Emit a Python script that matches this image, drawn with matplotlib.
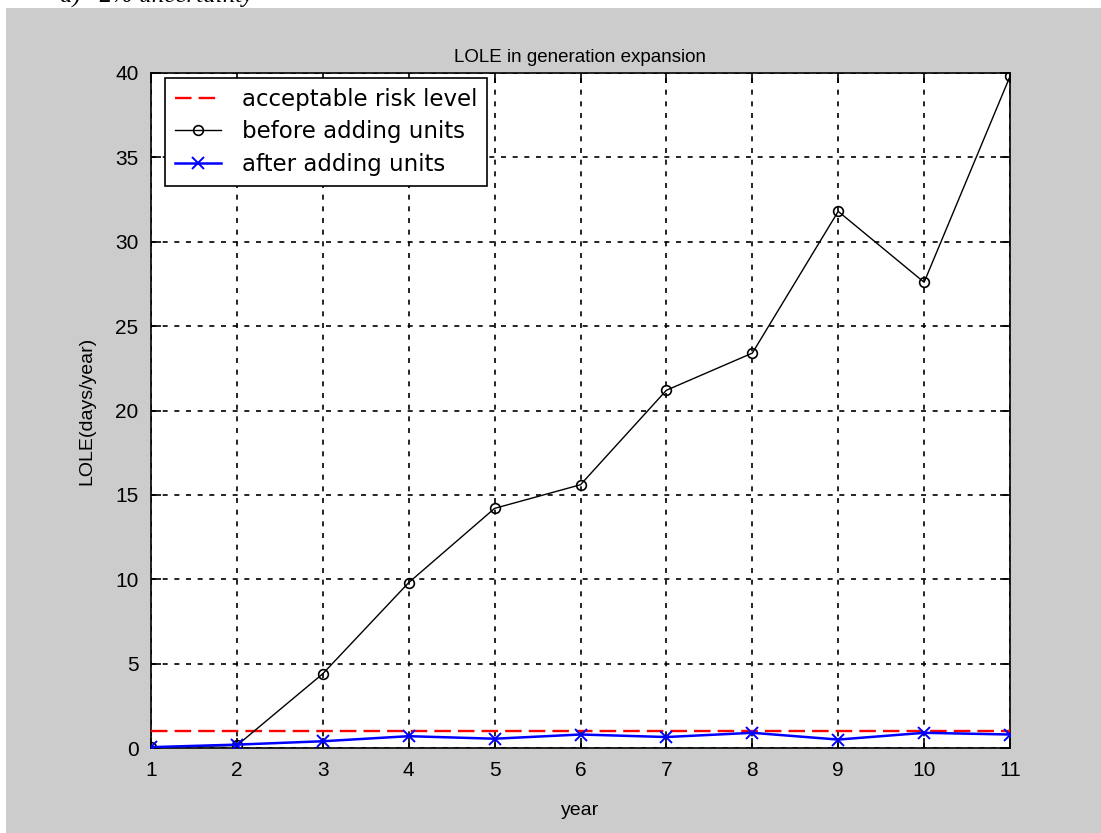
import matplotlib
matplotlib.use("Agg")
import matplotlib.pyplot as plt
from matplotlib.patches import Rectangle

years = [1, 2, 3, 4, 5, 6, 7, 8, 9, 10, 11]
risk_level = [1, 1, 1, 1, 1, 1, 1, 1, 1, 1, 1]
before_units = [0.05, 0.15, 4.4, 9.8, 14.2, 15.6, 21.2, 23.4, 31.8, 27.6, 39.8]
after_units = [0.05, 0.2, 0.4, 0.7, 0.55, 0.8, 0.65, 0.9, 0.5, 0.9, 0.8]
x_ticks = [1, 2, 3, 4, 5, 6, 7, 8, 9, 10, 11]
y_ticks = [0, 5, 10, 15, 20, 25, 30, 35, 40]

plt.rcParams['font.family'] = ['Liberation Sans', 'DejaVu Sans']
W, H = 1101, 833
fig = plt.figure(figsize=(W / 100, H / 100), dpi=100, facecolor='white')
fig.patches.append(Rectangle((6 / W, 0), 1 - 6 / W, 1 - 8 / H, transform=fig.transFigure,
                             facecolor='#cccccc', edgecolor='none', zorder=-10))
fig.text(60 / W, 1 + 15 / H, "a)   2% uncertainty", fontsize=18, family='Liberation Serif',
         style='italic', va='top', ha='left')

ax = fig.add_axes([151 / W, 1 - 748 / H, (1010 - 151) / W, (748 - 73) / H])
ax.set_facecolor('white')

ax.plot(years, risk_level, color='#ff0000', linestyle=(0, (7, 3)), linewidth=1.7,
        label='acceptable risk level', zorder=3)
ax.plot(years, before_units, color='black', linewidth=1.0, marker='o', markersize=7,
        markerfacecolor='none', markeredgewidth=1.2, label='before adding units', zorder=4)
ax.plot(years, after_units, color='#0000ff', linewidth=1.8, marker='x', markersize=8,
        markeredgewidth=1.4, label='after adding units', zorder=5)

ax.set_xlim(1, 11)
ax.set_ylim(0, 40)
ax.set_xticks(x_ticks)
ax.set_yticks(y_ticks)
ax.tick_params(direction='in', length=7, width=1.2, top=True, right=True,
               labelsize=15, pad=9)
ax.grid(True, color='black', linestyle=(0, (3, 4)), linewidth=1.2)
ax.set_axisbelow(True)
for s in ax.spines.values():
    s.set_linewidth(1.2)

ax.set_title('LOLE in generation expansion', fontsize=13.5, pad=8)
ax.set_xlabel('year', fontsize=14, labelpad=16)
ax.set_ylabel('LOLE(days/year)', fontsize=14, labelpad=14)

leg = ax.legend(loc='upper left', bbox_to_anchor=(14 / 859, 1 - 5 / 675),
                prop={'family': 'DejaVu Sans', 'size': 16.5},
                frameon=True, fancybox=False, edgecolor='black', framealpha=1,
                borderpad=0.45, labelspacing=0.4, handlelength=2.0, handletextpad=0.9,
                borderaxespad=0)
leg.get_frame().set_linewidth(1.2)
leg.set_zorder(10)

fig.savefig('out.png', dpi=100, facecolor=fig.get_facecolor())
